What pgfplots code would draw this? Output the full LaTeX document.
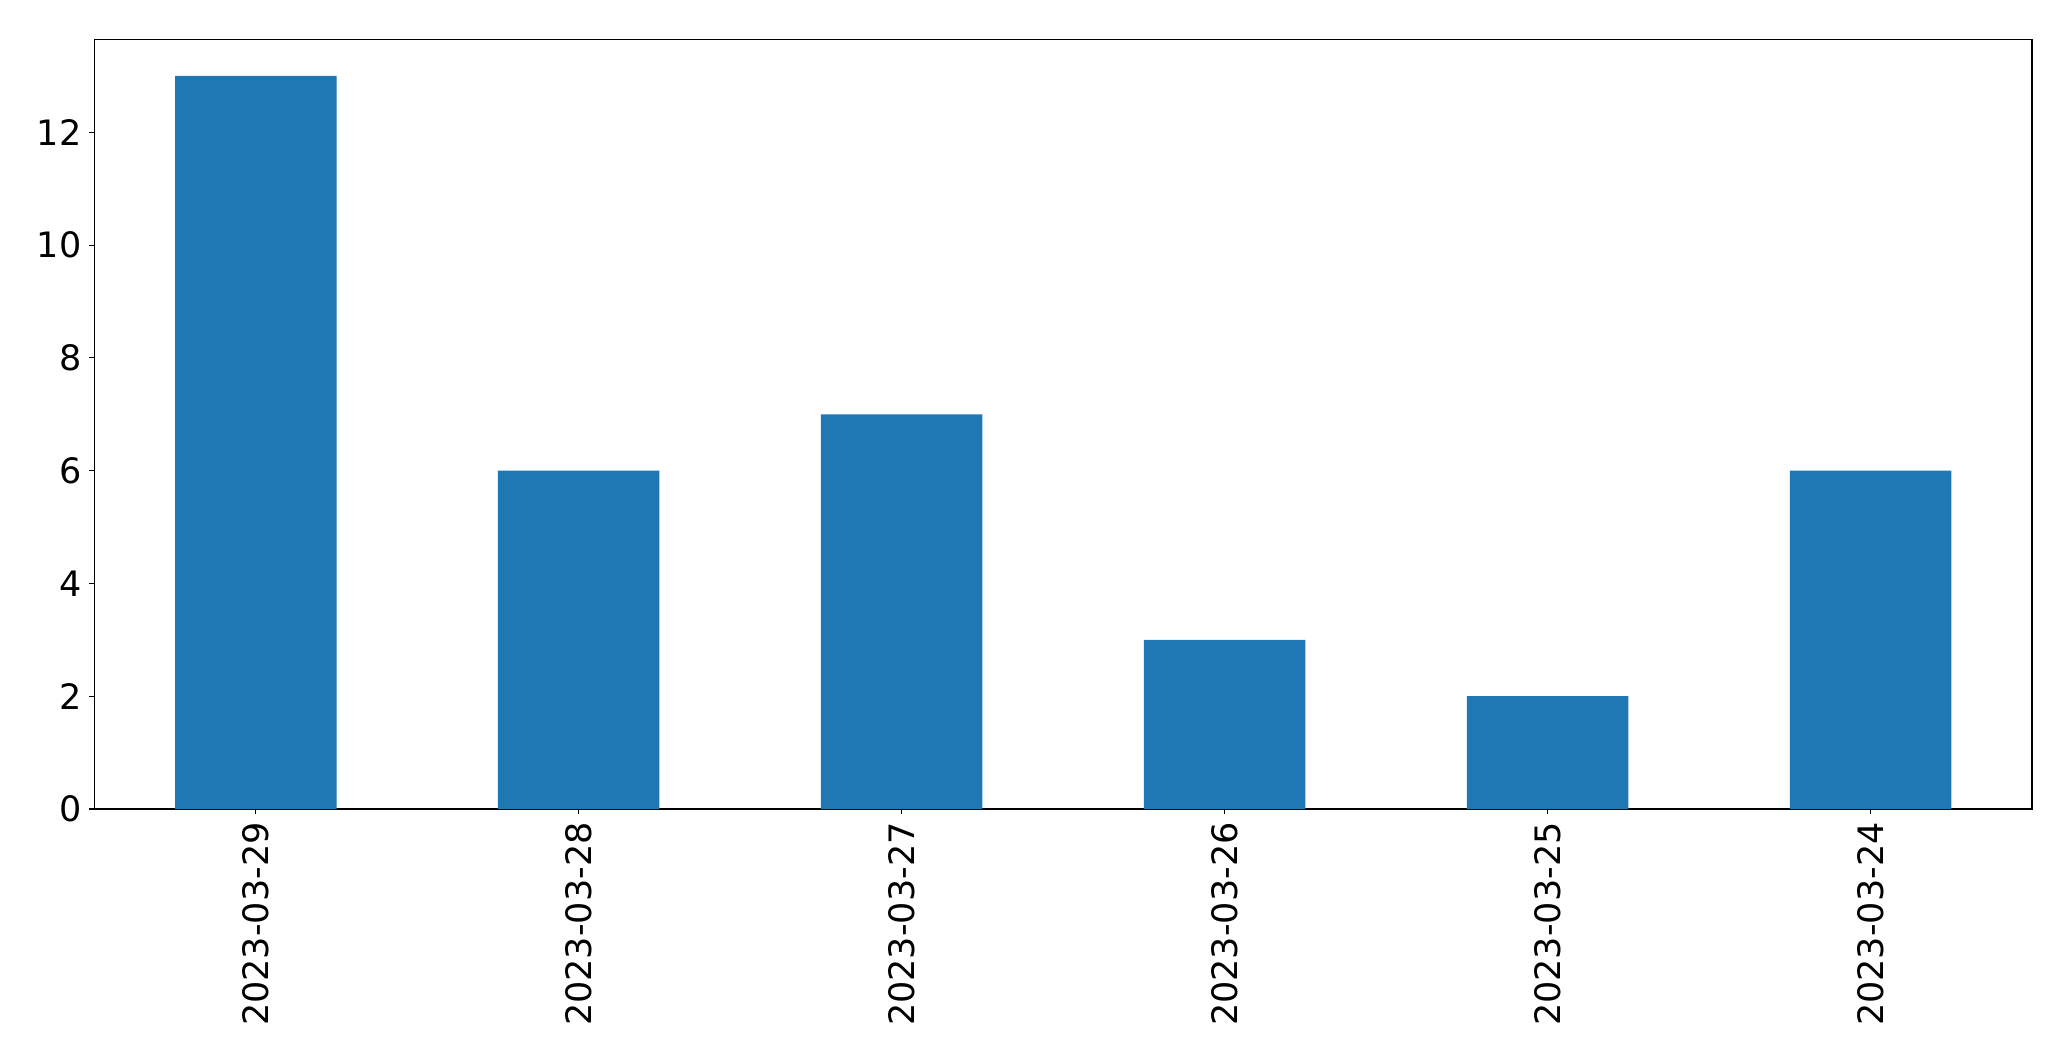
\documentclass[border=0pt]{standalone}
\usepackage{pgfplots}
\pgfplotsset{compat=1.18}
\usepackage{fontspec}
\setmainfont{DejaVu Sans}
\definecolor{barblue}{HTML}{1F77B4}
\begin{document}
\begin{tikzpicture}
\path[use as bounding box] (-47.15pt,-126pt) rectangle (988.35pt,404.5pt);
\begin{axis}[
    at={(0,0)}, anchor=south west,
    scale only axis,
    width=968.85pt, height=384.85pt,
    xmin=-0.5, xmax=5.5,
    ymin=0, ymax=13.65,
    xtick=data,
    xticklabels={2023-03-29,2023-03-28,2023-03-27,2023-03-26,2023-03-25,2023-03-24},
    ytick={0,2,4,6,8,10,12},
    tick align=outside,
    xtick pos=bottom, ytick pos=left,
    major tick length=2.5pt,
    axis line style={line width=0.6pt},
    tick style={line width=0.6pt, black},
    /pgf/number format/assume math mode=true,
    tick label style={font=\fontsize{17.5}{20}\selectfont, inner sep=0pt},
    xticklabel style={yshift=-4pt, rotate=90, anchor=east},
    yticklabel style={anchor=east, xshift=-3.8pt},
]
\addplot[ybar, bar width=0.5, fill=barblue, draw=none] coordinates {
    (0,13) (1,6) (2,7) (3,3) (4,2) (5,6)
};
\end{axis}
\end{tikzpicture}
\end{document}
